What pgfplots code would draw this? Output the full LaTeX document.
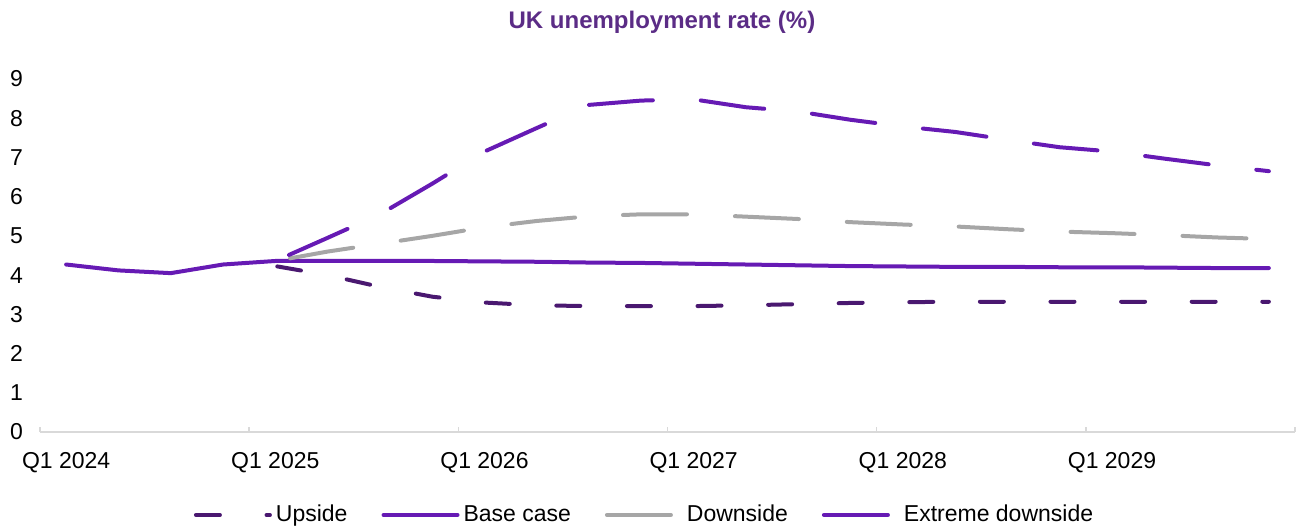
\documentclass[border=0pt]{standalone}
\usepackage{pgfplots}
\pgfplotsset{compat=1.18}
\usepackage{fontspec}
\setmainfont{Liberation Sans}
\usetikzlibrary{calc}
\definecolor{basec}{HTML}{661AB4}
\definecolor{upc}{HTML}{4A1870}
\definecolor{downc}{HTML}{A6A6A6}
\definecolor{titlec}{HTML}{5B2C86}
\definecolor{axc}{HTML}{D9D9D9}
\begin{document}
\begin{tikzpicture}
\begin{axis}[
  name=ax,
  scale only axis,
  width=627.5pt, height=176.5pt,
  xmin=-0.5, xmax=23.5, ymin=0, ymax=9,
  axis x line*=bottom, axis y line*=left,
  x axis line style={draw=axc, line width=0.8pt},
  y axis line style={draw=none},
  ytick={0,1,...,9},
  ytick style={draw=none},
  xtick={0,4,8,12,16,20},
  xticklabels={Q1 2024,Q1 2025,Q1 2026,Q1 2027,Q1 2028,Q1 2029},
  major x tick style={draw=none},
  minor xtick={-0.5,3.5,7.5,11.5,15.5,19.5,23.5},
  minor x tick style={draw=axc, line width=0.8pt},
  minor tick length=2.5pt,
  tick align=inside,
  /pgf/number format/assume math mode=true,
  tick label style={font=\fontsize{11.5}{13}\selectfont},
  yticklabel style={anchor=east, xshift=-5pt},
  xticklabel style={anchor=center, yshift=-15.5pt},
  title={UK unemployment rate (\%)},
  title style={font=\bfseries\fontsize{12}{14}\selectfont, text=titlec, at={(0.4956,1)}, anchor=center, yshift=22.5pt},
  legend columns=4,
  legend style={draw=none, fill=none, at={(0.4825,-0.235)}, anchor=center,
    font=\fontsize{11.5}{13}\selectfont,
    /tikz/every even column/.style={column sep=15pt}},
  legend image code/.code={\draw[#1,dash phase=0pt] (0pt,0pt) -- (37pt,0pt);},
  clip=false,
]
\addplot[upc, line width=2pt, line cap=round, dash pattern=on 12pt off 23.3pt, dash phase=34.3pt] coordinates {
(4,4.23) (5,4.00) (6,3.70) (7,3.45) (8,3.30) (9,3.23) (10,3.21) (11,3.21) (12,3.21) (13,3.23) (14,3.26) (15,3.29) (16,3.31) (17,3.32) (18,3.32) (19,3.32) (20,3.32) (21,3.32) (22,3.32) (23,3.32)};
\addlegendentry{Upside}
\addplot[basec, line width=2pt, line cap=round, line join=round] coordinates {
(0,4.27) (1,4.12) (2,4.05) (3,4.27) (4,4.36) (5,4.36) (6,4.36) (7,4.36) (8,4.35) (9,4.34) (10,4.32) (11,4.31) (12,4.29) (13,4.27) (14,4.25) (15,4.23) (16,4.22) (17,4.21) (18,4.21) (19,4.20) (20,4.20) (21,4.19) (22,4.18) (23,4.18)};
\addlegendentry{Base case}
\addplot[downc, line width=2pt, line cap=round, dash pattern=on 32pt off 24pt, dash phase=48.5pt] coordinates {
(4,4.36) (5,4.60) (6,4.80) (7,5.00) (8,5.22) (9,5.38) (10,5.50) (11,5.55) (12,5.55) (13,5.49) (14,5.43) (15,5.35) (16,5.29) (17,5.24) (18,5.17) (19,5.11) (20,5.07) (21,5.02) (22,4.96) (23,4.92)};
\addlegendentry{Downside}
\addplot[basec, line width=2pt, line cap=round, dash pattern=on 32pt off 24pt, dash phase=48.5pt] coordinates {
(4,4.36) (5,4.95) (6,5.55) (7,6.33) (8,7.15) (9,7.75) (10,8.34) (11,8.45) (12,8.48) (13,8.28) (14,8.17) (15,7.96) (16,7.79) (17,7.65) (18,7.45) (19,7.26) (20,7.15) (21,6.97) (22,6.80) (23,6.65)};
\addlegendentry{Extreme downside}
\end{axis}
\pgfresetboundingbox
\path[use as bounding box] ($(ax.south west)+(-20pt,-47.5pt)$) rectangle ($(ax.north east)+(2.5pt,39.5pt)$);
\end{tikzpicture}
\end{document}
